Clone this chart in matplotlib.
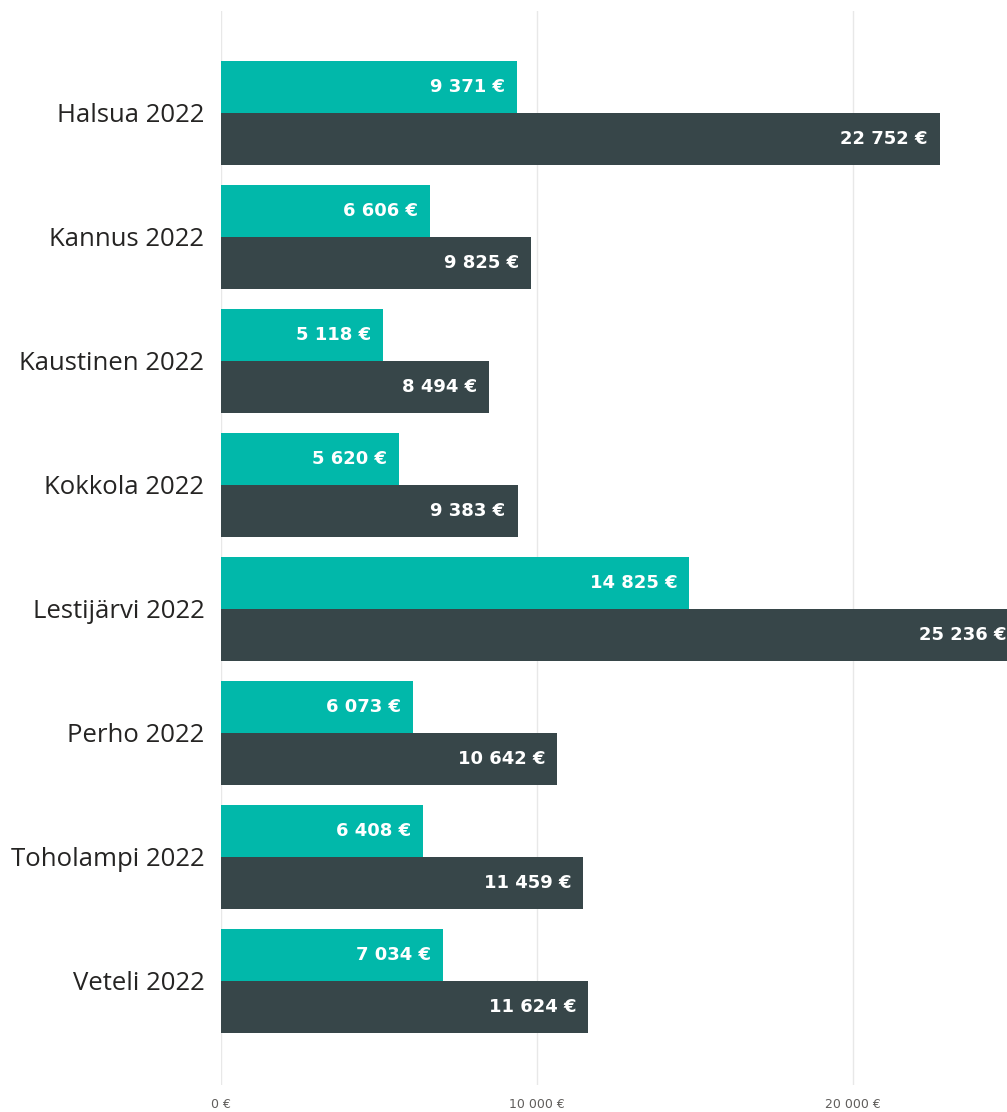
import matplotlib.pyplot as plt
import numpy as np

# Kunnat ja arvot (euroa)
kunnat = ['Halsua 2022', 'Kannus 2022', 'Kaustinen 2022', 'Kokkola 2022',
          'Lestijärvi 2022', 'Perho 2022', 'Toholampi 2022', 'Veteli 2022']
sarja1 = [9371, 6606, 5118, 5620, 14825, 6073, 6408, 7034]
sarja2 = [22752, 9825, 8494, 9383, 25236, 10642, 11459, 11624]
xticks = [0, 10000, 20000]

teal = '#01B8AA'
dark = '#374649'


def fmt(v):
    return '{:,}'.format(v).replace(',', ' ') + ' €'


fig = plt.figure(figsize=(10.07, 11.12), dpi=100)
ax = fig.add_axes([221 / 1007, 1 - 1085 / 1112, 786 / 1007, 1074 / 1112])

y = np.arange(len(kunnat))
h = 0.42
ax.barh(y - h / 2, sarja1, height=h, color=teal)
ax.barh(y + h / 2, sarja2, height=h, color=dark)

ax.set_xlim(0, 786 / 316 * 10000)
ax.set_ylim(7.84, -0.82)

lblfont = dict(color='white', fontsize=13, fontweight='bold',
               family=['DejaVu Sans'], ha='right', va='center')
for i in range(len(kunnat)):
    ax.annotate(fmt(sarja1[i]), (sarja1[i], y[i] - h / 2), xytext=(-12, 0),
                textcoords='offset pixels', annotation_clip=False, **lblfont)
    ax.annotate(fmt(sarja2[i]), (sarja2[i], y[i] + h / 2), xytext=(-12, 0),
                textcoords='offset pixels', annotation_clip=False, **lblfont)

ax.set_yticks(y)
ax.set_yticklabels(kunnat, fontsize=18.5, color='#252423', family=['Open Sans', 'DejaVu Sans'])
ax.set_xticks(xticks)
ax.set_xticklabels([fmt(v) for v in xticks], fontsize=9, color='#605E5C')
ax.tick_params(length=0)
ax.tick_params(axis='y', pad=12)
ax.tick_params(axis='x', pad=9)

ax.grid(axis='x', color='#E8E8E8', linewidth=1)
ax.set_axisbelow(True)
for s in ax.spines.values():
    s.set_visible(False)

fig.savefig('out.png', dpi=100)
